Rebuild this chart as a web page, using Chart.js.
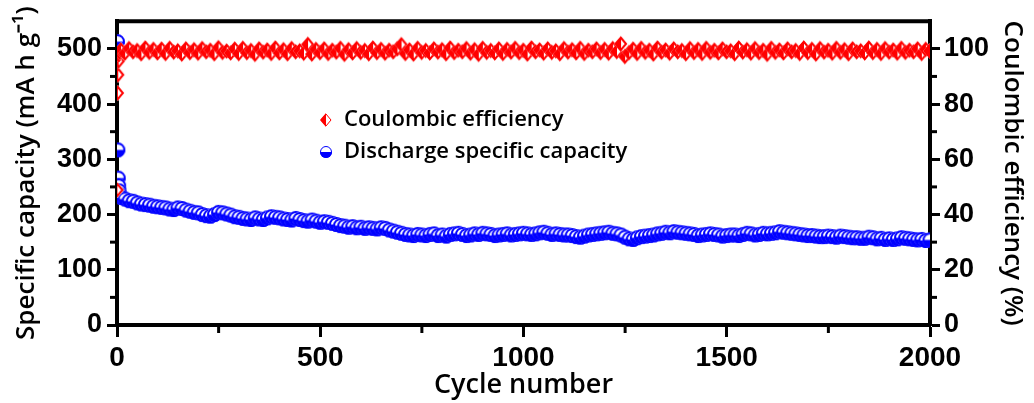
<!DOCTYPE html>
<html>
<head>
<meta charset="utf-8">
<script src="https://cdn.jsdelivr.net/npm/chart.js@4"></script>
<style>
  body { margin: 0; background: #fff; }
  #wrap { width: 1034px; height: 403px; }
</style>
</head>
<body>
<div id="wrap"><canvas id="cycleChart" width="1034" height="403"></canvas></div>
<script>
// cycle numbers (first cycles one by one, then every 10 cycles)
const cycles = [1, 2, 3, 4, 5, 7,
  10, 20, 30, 40, 50, 60, 70, 80, 90, 100,
  110, 120, 130, 140, 150, 160, 170, 180, 190, 200,
  210, 220, 230, 240, 250, 260, 270, 280, 290, 300,
  310, 320, 330, 340, 350, 360, 370, 380, 390, 400,
  410, 420, 430, 440, 450, 460, 470, 480, 490, 500,
  510, 520, 530, 540, 550, 560, 570, 580, 590, 600,
  610, 620, 630, 640, 650, 660, 670, 680, 690, 700,
  710, 720, 730, 740, 750, 760, 770, 780, 790, 800,
  810, 820, 830, 840, 850, 860, 870, 880, 890, 900,
  910, 920, 930, 940, 950, 960, 970, 980, 990, 1000,
  1010, 1020, 1030, 1040, 1050, 1060, 1070, 1080, 1090, 1100,
  1110, 1120, 1130, 1140, 1150, 1160, 1170, 1180, 1190, 1200,
  1210, 1220, 1230, 1240, 1250, 1260, 1270, 1280, 1290, 1300,
  1310, 1320, 1330, 1340, 1350, 1360, 1370, 1380, 1390, 1400,
  1410, 1420, 1430, 1440, 1450, 1460, 1470, 1480, 1490, 1500,
  1510, 1520, 1530, 1540, 1550, 1560, 1570, 1580, 1590, 1600,
  1610, 1620, 1630, 1640, 1650, 1660, 1670, 1680, 1690, 1700,
  1710, 1720, 1730, 1740, 1750, 1760, 1770, 1780, 1790, 1800,
  1810, 1820, 1830, 1840, 1850, 1860, 1870, 1880, 1890, 1900,
  1910, 1920, 1930, 1940, 1950, 1960, 1970, 1980, 1990, 2000];

// discharge specific capacity, mA h g-1 (left axis)
const capacity = [513, 317, 266, 252, 243, 236,
  231, 228, 225, 224, 221, 219, 218, 217, 215, 214,
  213, 212, 210, 209, 212, 211, 208, 206, 204, 203,
  200, 198, 197, 200, 204, 203, 201, 199, 196, 195,
  193, 192, 191, 194, 192, 191, 194, 196, 195, 194,
  192, 191, 190, 193, 191, 189, 188, 190, 188, 186,
  187, 186, 184, 182, 180, 179, 177, 178, 176, 177,
  175, 176, 175, 174, 176, 175, 172, 170, 168, 166,
  164, 163, 162, 164, 163, 162, 164, 165, 162, 163,
  161, 164, 165, 166, 164, 162, 163, 165, 164, 166,
  165, 164, 162, 163, 164, 165, 163, 164, 165, 166,
  165, 164, 165, 167, 168, 166, 164, 165, 164, 163,
  163, 162, 160, 159, 161, 163, 164, 165, 166, 167,
  168, 166, 165, 163, 159, 156, 155, 158, 160, 161,
  162, 163, 165, 166, 168, 167, 169, 168, 167, 166,
  165, 164, 162, 163, 164, 165, 164, 163, 161, 162,
  163, 163, 162, 164, 166, 165, 163, 164, 166, 165,
  166, 167, 169, 168, 167, 166, 165, 164, 163, 162,
  162, 161, 160, 160, 161, 160, 159, 161, 160, 159,
  158, 158, 157, 157, 159, 158, 156, 157, 155, 156,
  155, 156, 158, 157, 156, 155, 154, 155, 153, 154];

// coulombic efficiency, % (right axis)
const efficiency = [48.9, 84.0, 90.6, 95.5, 97.8, 98.8,
  99.6, 98.4, 100.1, 98.9, 99.4, 98.2, 100.3, 98.7, 99.8, 98.5,
  99.9, 98.3, 100.2, 98.8, 99.3, 98.1, 100.0, 98.6, 99.7, 98.4,
  100.1, 98.9, 99.5, 98.2, 100.4, 98.7, 99.2, 98.5, 99.9, 98.3,
  100.2, 98.6, 99.4, 98.0, 100.0, 98.8, 99.6, 98.3, 100.3, 98.5,
  99.7, 98.2, 100.1, 98.9, 99.3, 98.4, 101.6, 98.1, 99.8, 98.6,
  100.0, 98.3, 99.5, 98.8, 100.2, 98.0, 99.7, 98.5, 100.1, 98.7,
  99.4, 98.2, 100.3, 98.6, 99.8, 98.4, 99.5, 98.9, 100.0, 101.5,
  98.3, 99.6, 98.1, 100.2, 98.7, 99.4, 98.5, 100.0, 98.8, 99.7,
  98.2, 100.3, 98.6, 99.5, 98.9, 100.1, 98.4, 99.7, 98.0, 100.2,
  98.7, 99.4, 98.5, 100.0, 98.3, 99.8, 98.8, 100.2, 98.6, 99.5,
  98.1, 100.3, 98.9, 99.6, 98.4, 100.0, 98.7, 99.3, 98.2, 100.1,
  98.8, 99.7, 98.5, 100.2, 98.3, 99.5, 98.9, 100.0, 98.6, 99.8,
  98.4, 100.1, 99.0, 101.8, 97.2, 98.6, 99.9, 98.3, 100.2, 98.7,
  99.5, 98.1, 100.3, 98.8, 99.6, 98.4, 100.0, 98.9, 99.4, 98.2,
  100.1, 98.6, 99.8, 98.3, 100.2, 98.7, 99.5, 98.5, 100.0, 98.9,
  99.3, 98.2, 100.3, 98.8, 99.7, 98.4, 100.1, 98.6, 99.5, 98.0,
  100.2, 98.7, 99.6, 98.5, 100.0, 98.9, 99.4, 98.3, 100.3, 98.6,
  99.8, 98.1, 100.1, 98.8, 99.5, 98.4, 100.2, 98.7, 99.7, 98.2,
  100.0, 98.9, 99.3, 98.5, 100.3, 98.6, 99.8, 98.3, 100.1, 98.8,
  99.6, 98.4, 100.2, 98.7, 99.5, 98.9, 100.0, 98.3, 99.8, 99.2];

const cycleTicks = [0, 500, 1000, 1500, 2000];
const capacityTicks = [0, 100, 200, 300, 400, 500];
const efficiencyTicks = [0, 20, 40, 60, 80, 100];

const RED = '#ff0000';
const BLUE = '#0000ff';

// half filled circle: top white, bottom blue
function halfCircle(r, color, lw) {
  const c = document.createElement('canvas');
  const s = 2 * r + 2;
  c.width = s; c.height = s;
  const g = c.getContext('2d');
  const m = s / 2;
  g.fillStyle = '#fff';
  g.beginPath(); g.arc(m, m, r, 0, Math.PI * 2); g.fill();
  g.fillStyle = color;
  g.beginPath(); g.arc(m, m, r, 0, Math.PI); g.closePath(); g.fill();
  g.strokeStyle = color; g.lineWidth = lw;
  g.beginPath(); g.arc(m, m, r - lw / 2, 0, Math.PI * 2); g.stroke();
  return c;
}

// half filled diamond: left red, right white
function halfDiamond(w, h, color, lw) {
  const c = document.createElement('canvas');
  c.width = w + 2; c.height = h + 2;
  const g = c.getContext('2d');
  const cx = c.width / 2, cy = c.height / 2;
  g.fillStyle = '#fff';
  g.beginPath();
  g.moveTo(cx, cy - h / 2); g.lineTo(cx + w / 2, cy); g.lineTo(cx, cy + h / 2); g.lineTo(cx - w / 2, cy);
  g.closePath(); g.fill();
  g.fillStyle = color;
  g.beginPath();
  g.moveTo(cx, cy - h / 2); g.lineTo(cx, cy + h / 2); g.lineTo(cx - w / 2, cy);
  g.closePath(); g.fill();
  g.strokeStyle = color; g.lineWidth = lw;
  g.beginPath();
  g.moveTo(cx, cy - h / 2 + lw); g.lineTo(cx + w / 2 - lw, cy); g.lineTo(cx, cy + h / 2 - lw); g.lineTo(cx - w / 2 + lw, cy);
  g.closePath(); g.stroke();
  return c;
}

const circleImg = halfCircle(7.5, BLUE, 2);
const diamondImg = halfDiamond(14, 16, RED, 2);
const circleKey = halfCircle(6, BLUE, 1);
const diamondKey = halfDiamond(12, 14, RED, 1);

// frame top line, minor ticks and the legend inside the plot
const extras = {
  id: 'extras',
  afterDraw(chart) {
    const ctx = chart.ctx;
    const a = chart.chartArea;
    const sx = chart.scales.x, sy = chart.scales.y, sy1 = chart.scales.y1;
    ctx.save();
    ctx.strokeStyle = '#000';
    ctx.lineWidth = 4;
    ctx.beginPath();
    ctx.moveTo(a.left - 2, a.top); ctx.lineTo(a.right + 2, a.top);
    ctx.stroke();

    ctx.lineWidth = 3;
    [250, 750, 1250, 1750].forEach(v => {
      const px = sx.getPixelForValue(v);
      ctx.beginPath(); ctx.moveTo(px, a.bottom); ctx.lineTo(px, a.bottom + 8); ctx.stroke();
    });
    [50, 150, 250, 350, 450].forEach(v => {
      const py = sy.getPixelForValue(v);
      ctx.beginPath(); ctx.moveTo(a.left, py); ctx.lineTo(a.left - 7, py); ctx.stroke();
    });
    [10, 30, 50, 70, 90].forEach(v => {
      const py = sy1.getPixelForValue(v);
      ctx.beginPath(); ctx.moveTo(a.right, py); ctx.lineTo(a.right + 7, py); ctx.stroke();
    });

    // legend
    const rows = [
      { img: diamondKey, label: chart.data.datasets[0].label, y: 120 },
      { img: circleKey, label: chart.data.datasets[1].label, y: 152 }
    ];
    ctx.font = '600 22px "Open Sans"';
    ctx.fillStyle = '#000';
    ctx.textBaseline = 'middle';
    ctx.textAlign = 'left';
    rows.forEach(r => {
      ctx.drawImage(r.img, 326 - r.img.width / 2, r.y - r.img.height / 2);
      ctx.fillText(r.label, 344, r.y);
    });
    ctx.restore();
  }
};

const ceData = cycles.map((c, i) => ({ x: c, y: efficiency[i] }));
const capData = cycles.map((c, i) => ({ x: c, y: capacity[i] }));

const tickFont = { family: 'Liberation Sans', size: 27, weight: 'bold' };
const sideTitleFont = { family: 'Open Sans', size: 26, weight: '600' };

new Chart(document.getElementById('cycleChart'), {
  type: 'scatter',
  data: {
    datasets: [
      {
        label: 'Coulombic efficiency',
        data: ceData,
        yAxisID: 'y1',
        pointStyle: diamondImg,
        borderColor: RED,
        backgroundColor: RED
      },
      {
        label: 'Discharge specific capacity',
        data: capData,
        yAxisID: 'y',
        pointStyle: circleImg,
        borderColor: BLUE,
        backgroundColor: BLUE
      }
    ]
  },
  options: {
    responsive: false,
    animation: false,
    layout: { padding: { top: 20 } },
    plugins: {
      legend: { display: false },
      tooltip: { enabled: false }
    },
    scales: {
      x: {
        type: 'linear',
        min: 0,
        max: 2000,
        afterFit: s => { s.height = 78; },
        afterBuildTicks: s => { s.ticks = cycleTicks.map(v => ({ value: v })); },
        ticks: { color: '#000', font: { family: 'Liberation Sans', size: 28, weight: 'bold' }, padding: 4, maxRotation: 0, callback: v => String(v) },
        grid: { drawOnChartArea: false, drawTicks: true, tickLength: 12, tickWidth: 3, tickColor: '#000' },
        border: { display: true, width: 4, color: '#000' },
        title: { display: true, text: 'Cycle number', color: '#000', font: { family: 'Open Sans', size: 27, weight: '600' }, padding: { top: 0, bottom: 1 } }
      },
      y: {
        position: 'left',
        min: 0,
        max: 550,
        afterFit: s => { s.width = 117; },
        afterBuildTicks: s => { s.ticks = capacityTicks.map(v => ({ value: v })); },
        ticks: { color: '#000', font: tickFont, padding: 5 },
        grid: { drawOnChartArea: false, drawTicks: true, tickLength: 10, tickWidth: 3, tickColor: '#000' },
        border: { display: true, width: 4, color: '#000' },
        title: { display: true, text: 'Specific capacity (mA h g\u207B\u00B9)', color: '#000', font: sideTitleFont, padding: { top: 11, bottom: 0 } }
      },
      y1: {
        position: 'right',
        min: 0,
        max: 110,
        afterFit: s => { s.width = 104; },
        afterBuildTicks: s => { s.ticks = efficiencyTicks.map(v => ({ value: v })); },
        ticks: { color: '#000', font: tickFont, padding: 4 },
        grid: { drawOnChartArea: false, drawTicks: true, tickLength: 10, tickWidth: 3, tickColor: '#000' },
        border: { display: true, width: 4, color: '#000' },
        title: { display: true, text: 'Coulombic efficiency (%)', color: '#000', font: sideTitleFont, padding: { top: 6, bottom: 0 } }
      }
    }
  },
  plugins: [extras]
});
</script>
</body>
</html>
